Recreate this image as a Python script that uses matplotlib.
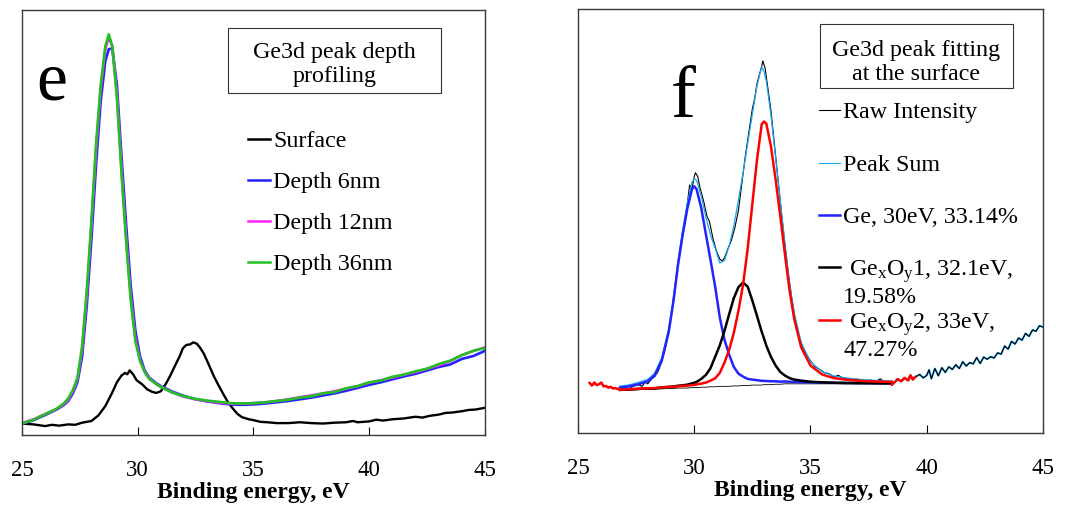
import numpy as np
import matplotlib
matplotlib.use('Agg')
import matplotlib.pyplot as plt
from matplotlib.patches import Rectangle

plt.rcParams['font.family'] = ['Liberation Serif', 'DejaVu Serif']
plt.rcParams['mathtext.fontset'] = 'custom'
plt.rcParams['mathtext.rm'] = 'Liberation Serif'
plt.rcParams['mathtext.it'] = 'Liberation Serif:italic'

# ---------------- panel e: Ge3d depth profiling ----------------
e_surface = [25.0, 25.5, 26.0, 26.3, 26.6, 27.0, 27.3, 27.6, 28.0, 28.3, 28.6, 28.9, 29.1,
             29.3, 29.45, 29.55, 29.65, 29.8, 29.95, 30.2, 30.4, 30.6, 30.8, 31.0, 31.2,
             31.4, 31.6, 31.8, 31.95, 32.1, 32.25, 32.4, 32.55, 32.7, 32.85, 33.05, 33.3,
             33.5, 33.7, 33.9, 34.1, 34.3, 34.5, 34.8, 35.0, 35.3, 35.6, 36.0, 36.5, 37.0,
             37.5, 38.0, 38.5, 39.0, 39.3, 39.5, 40.0, 40.3, 40.6, 41.0, 41.5, 42.0, 42.3,
             42.6, 43.0, 43.3, 43.6, 44.0, 44.3, 44.6, 45.0]
i_surface = [2.7, 2.5, 2.1, 2.4, 2.2, 2.5, 2.4, 2.9, 3.3, 4.6, 6.8, 10.0, 12.4,
             14.0, 14.6, 14.3, 15.2, 14.3, 12.9, 11.9, 10.8, 10.2, 9.9, 10.3, 11.9,
             13.9, 16.2, 18.4, 20.4, 21.2, 21.3, 21.8, 21.5, 20.5, 19.2, 16.8, 13.7,
             11.6, 9.6, 7.7, 6.3, 5.0, 4.2, 3.7, 3.5, 3.1, 3.0, 2.8, 2.8, 3.0,
             2.8, 2.7, 2.9, 3.0, 3.3, 3.0, 3.2, 3.6, 3.4, 3.7, 3.9, 4.3, 4.1,
             4.5, 4.8, 5.2, 5.3, 5.6, 5.9, 6.0, 6.4]

e_depth = [25.0, 25.5, 26.0, 26.5, 26.8, 27.0, 27.2, 27.4, 27.6, 27.8,
           28.0, 28.2, 28.4, 28.6, 28.75, 28.9, 29.1, 29.3, 29.5, 29.7,
           29.9, 30.1, 30.3, 30.5, 30.8, 31.0,
           31.5, 32.0, 32.5, 33.0, 33.5, 34.0, 34.5, 35.0, 35.5, 36.0, 36.5, 37.0,
           37.5, 38.0, 38.5, 39.0, 39.5, 40.0, 40.5, 41.0, 41.5, 42.0, 42.5, 43.0,
           43.5, 44.0, 44.5, 45.0]
i_depth6 = [2.6, 3.5, 4.7, 6.0, 7.0, 8.0, 9.8, 12.5, 18.5, 30.5,
            46.0, 63.5, 78.5, 88.0, 90.8, 91.0, 82.5, 65.5, 49.5, 35.0,
            24.5, 18.5, 15.2, 13.5, 12.2, 11.5,
            10.2, 9.2, 8.4, 7.9, 7.5, 7.2, 7.1, 7.2, 7.4, 7.7, 8.0, 8.4,
            8.8, 9.3, 9.8, 10.4, 11.1, 11.8, 12.4, 13.1, 13.8, 14.4, 15.2, 16.0,
            16.6, 17.9, 18.6, 19.8]
i_depth12 = [2.8, 3.7, 4.9, 6.1, 7.2, 8.3, 10.3, 13.2, 20.0, 33.0,
             49.5, 67.0, 81.5, 90.8, 93.6, 91.6, 80.5, 62.5, 46.5, 32.5,
             22.8, 17.6, 14.9, 13.3, 12.0, 11.3,
             10.0, 9.0, 8.4, 8.0, 7.6, 7.4, 7.4, 7.5, 7.7, 8.0, 8.4, 8.9,
             9.3, 9.8, 10.3, 10.9, 11.5, 12.3, 12.9, 13.5, 14.2, 14.8, 15.6, 16.4,
             17.4, 18.8, 19.8, 20.6]
i_depth36 = [2.7, 3.6, 4.9, 6.2, 7.4, 8.6, 10.6, 13.5, 21.0, 34.0,
             50.5, 68.5, 82.3, 91.5, 94.3, 91.5, 79.5, 61.5, 45.5, 31.5,
             22.0, 17.5, 14.8, 13.2, 12.0, 11.3,
             10.0, 9.1, 8.5, 8.1, 7.8, 7.5, 7.4, 7.5, 7.7, 8.0, 8.3, 8.8,
             9.1, 9.8, 10.1, 11.0, 11.5, 12.4, 12.8, 13.7, 14.2, 15.0, 15.6, 16.7,
             17.5, 18.8, 19.8, 20.5]

depth_labels = ['Surface', 'Depth 6nm', 'Depth 12nm', 'Depth 36nm']
depth_colors = ['black', '#2323ff', '#ff22ff', '#22c022']

# ---------------- panel f: peak fitting at the surface ----------------
e_raw = [25.5, 25.6, 25.7, 25.8, 25.9, 26.0, 26.1, 26.2, 26.3, 26.4, 26.5, 26.6, 26.7, 26.8,
         27.0, 27.2, 27.4, 27.6, 27.75, 27.9, 28.0, 28.1, 28.2, 28.3, 28.45, 28.6, 28.75,
         28.9, 29.05, 29.2, 29.35, 29.5, 29.6, 29.7, 29.8, 29.9, 30.0, 30.05, 30.15, 30.25,
         30.4, 30.55, 30.65, 30.8, 30.95, 31.1, 31.2, 31.3, 31.45, 31.6, 31.75, 31.9, 32.05,
         32.2, 32.35, 32.5, 32.6, 32.7, 32.8, 32.9, 32.95, 33.05, 33.15, 33.3, 33.45, 33.6,
         33.75, 33.9, 34.05, 34.2, 34.35, 34.5, 34.65, 34.8, 35.0, 35.2, 35.4, 35.6, 35.8,
         36.0, 36.2, 36.4, 36.6, 36.8, 37.0, 37.3, 37.6, 37.8, 38.0, 38.2, 38.4, 38.5, 38.6,
         38.75, 38.9, 39.05, 39.2, 39.3, 39.4, 39.5, 39.7, 39.85, 40.0, 40.1, 40.2, 40.35,
         40.5, 40.65, 40.8, 40.95, 41.1, 41.25, 41.4, 41.55, 41.7, 41.85, 42.0, 42.15, 42.3,
         42.45, 42.6, 42.75, 42.9, 43.05, 43.2, 43.35, 43.5, 43.65, 43.8, 43.95, 44.1, 44.25,
         44.4, 44.55, 44.7, 44.85, 45.0]
i_raw = [11.8, 11.2, 11.9, 11.3, 11.5, 11.9, 11.0, 11.1, 10.7, 10.9, 10.5, 10.6, 10.4, 10.3,
         10.6, 10.4, 11.1, 11.4, 11.0, 12.0, 11.6, 12.3, 12.9, 13.3, 14.6, 16.8, 19.8,
         24.0, 29.5, 35.5, 42.0, 47.5, 49.5, 54.0, 58.5, 57.5, 60.5, 61.4, 60.5, 57.8,
         54.8, 51.0, 50.0, 46.0, 43.0, 41.0, 40.6, 41.3, 43.5, 45.5, 48.5, 52.5, 59.0,
         65.5, 71.0, 76.5, 79.0, 82.5, 84.5, 86.5, 87.8, 86.0, 82.0, 76.0, 68.0, 60.0,
         52.0, 44.5, 37.5, 31.5, 26.5, 23.0, 20.5, 18.8, 17.0, 15.6, 15.0, 14.2, 14.0,
         13.2, 13.6, 12.9, 12.8, 12.6, 12.7, 12.3, 12.5, 12.1, 12.8, 12.0, 11.8, 11.4, 11.9,
         12.7, 12.2, 13.0, 12.4, 13.6, 12.6, 13.2, 13.8, 13.0, 13.6, 14.9, 12.8, 15.2,
         13.5, 15.4, 14.3, 15.6, 15.0, 16.1, 15.2, 16.8, 15.8, 16.6, 16.3, 17.8, 16.4,
         17.9, 17.4, 18.0, 17.7, 18.9, 18.6, 20.5, 19.8, 21.6, 21.0, 22.4, 21.9, 23.5,
         22.8, 24.3, 24.0, 25.3, 25.0]

e_fit = [26.8, 27.2, 27.6, 28.0, 28.3, 28.6, 28.9, 29.1, 29.3, 29.5,
         29.7, 29.9, 30.0, 30.1, 30.3, 30.5, 30.7, 30.9, 31.1, 31.3,
         31.5, 31.7, 31.9, 32.1, 32.3, 32.5, 32.7, 32.9, 33.0, 33.1,
         33.3, 33.5, 33.7, 33.9, 34.1, 34.3, 34.6, 35.0, 35.5, 36.0,
         36.5, 37.0, 37.5, 38.0, 38.5]
i_base = [10.0, 10.1, 10.2, 10.3, 10.3, 10.4, 10.5, 10.5, 10.6, 10.6,
          10.6, 10.7, 10.7, 10.7, 10.8, 10.8, 10.9, 10.9, 11.0, 11.0,
          11.0, 11.1, 11.1, 11.2, 11.2, 11.3, 11.3, 11.3, 11.4, 11.4,
          11.4, 11.5, 11.5, 11.6, 11.6, 11.6, 11.6, 11.6, 11.6, 11.6,
          11.6, 11.6, 11.6, 11.6, 11.6]
i_ge = [10.7, 11.0, 11.5, 12.2, 13.6, 17.05, 23.8, 30.9, 39.6, 46.7,
        52.9, 57.5, 58.2, 57.5, 53.1, 46.9, 40.8, 34.5, 27.2, 22.0,
        18.5, 15.6, 14.0, 13.3, 12.75, 12.6, 12.45, 12.3, 12.3, 12.25,
        12.2, 12.2, 12.1, 12.15, 12.1, 12.05, 12.0, 11.95, 11.9, 11.85,
        11.8, 11.8, 11.75, 11.75, 11.75]
i_gexoy1 = [10.15, 10.25, 10.4, 10.5, 10.55, 10.75, 10.9, 10.95, 11.15, 11.25,
            11.4, 11.7, 11.85, 12.05, 12.75, 13.7, 15.3, 18.0, 20.7, 24.1,
            28.0, 31.8, 34.4, 35.5, 34.5, 31.2, 27.6, 23.9, 22.3, 20.6,
            17.95, 15.9, 14.4, 13.55, 12.95, 12.6, 12.35, 12.1, 11.95, 11.85,
            11.8, 11.75, 11.75, 11.7, 11.7]
i_gexoy2 = [10.2, 10.3, 10.45, 10.55, 10.6, 10.75, 10.85, 10.9, 11.0, 11.1,
            11.15, 11.3, 11.35, 11.45, 11.65, 11.9, 12.35, 12.9, 14.2, 16.6,
            19.6, 23.6, 28.8, 35.0, 43.6, 54.1, 64.5, 72.8, 73.5, 73.0,
            67.6, 59.8, 51.2, 42.2, 33.6, 26.9, 20.2, 15.9, 13.8, 12.95,
            12.6, 12.35, 12.2, 12.1, 12.05]

fit_labels = ['Raw Intensity', 'Peak Sum', 'Ge, 30eV, 33.14%',
              ' Ge$_\\mathregular{x}$O$_\\mathregular{y}$1, 32.1eV,\n19.58%',
              ' Ge$_\\mathregular{x}$O$_\\mathregular{y}$2, 33eV,\n47.27%']
fit_colors = ['black', '#14a6f0', '#2323ff', 'black', '#ff0000']

xticks = [25, 30, 35, 40, 45]

fig = plt.figure(figsize=(10.77, 5.07), dpi=100)
ax1 = fig.add_axes([0.0204, 0.142, 0.4299, 0.838])
ax2 = fig.add_axes([0.5367, 0.146, 0.4317, 0.836])


def style_axis(ax):
    ax.set_xlim(25, 45)
    ax.set_ylim(0, 100)
    ax.set_xticks(xticks)
    ax.tick_params(axis='x', direction='in', length=6, width=0.8, pad=18,
                   labelsize=16.5, top=False)
    ax.tick_params(axis='y', left=False, labelleft=False)
    for sp in ax.spines.values():
        sp.set_color('#3a3a3a')
        sp.set_linewidth(1.0)
    ax.set_xlabel('Binding energy, eV', fontsize=17, fontweight='bold', labelpad=1)


# left panel
style_axis(ax1)
ax1.plot(e_surface, i_surface, color=depth_colors[0], lw=1.7)
ax1.plot(e_depth, i_depth6, color=depth_colors[1], lw=1.9)
ax1.plot(e_depth, i_depth12, color=depth_colors[2], lw=1.9)
ax1.plot(e_depth, i_depth36, color=depth_colors[3], lw=1.9)

ax1.text(0.03, 0.789, 'e', transform=ax1.transAxes, fontsize=50, va='baseline')
ax1.add_patch(Rectangle((0.445, 0.805), 0.46, 0.153, transform=ax1.transAxes,
                        fill=False, ec='#333333', lw=0.8))
# va='baseline' on multi-line text pins the last line
ax1.text(0.675, 0.8306, 'Ge3d peak depth\nprofiling', transform=ax1.transAxes,
         fontsize=17.3, ha='center', va='baseline', linespacing=1.22)
for k, (lab, col) in enumerate(zip(depth_labels, depth_colors)):
    yb = 0.6776 - k * 0.0965
    ax1.plot([0.488, 0.5356], [yb + 0.019, yb + 0.019], color=col, lw=1.8,
             transform=ax1.transAxes)
    ax1.text(0.542, yb, lab, transform=ax1.transAxes, fontsize=17.3, va='baseline')

# right panel
style_axis(ax2)
e_raw_a = np.array(e_raw)
i_raw_a = np.array(i_raw)
i_sum = np.array(i_ge) + np.array(i_gexoy1) + np.array(i_gexoy2) - 2 * np.array(i_base)

tail = e_raw_a >= 38.5
ax2.plot(e_raw_a[tail], i_raw_a[tail], color=fit_colors[1], lw=1.4)
ax2.plot(e_raw_a, i_raw_a, color=fit_colors[0], lw=0.8)
ax2.plot(e_fit, i_sum, color=fit_colors[1], lw=0.9)
ax2.plot(e_fit, i_base, color='black', lw=0.6)
ax2.plot(e_fit, i_ge, color=fit_colors[2], lw=1.8)
ax2.plot(e_fit, i_gexoy1, color=fit_colors[3], lw=1.8)
ax2.plot(e_fit, i_gexoy2, color=fit_colors[4], lw=1.8)
left_edge = e_raw_a <= 26.8
right_edge = (e_raw_a >= 38.5) & (e_raw_a <= 39.5)
ax2.plot(e_raw_a[left_edge], i_raw_a[left_edge], color=fit_colors[4], lw=1.8)
ax2.plot(e_raw_a[right_edge], i_raw_a[right_edge], color=fit_colors[4], lw=1.8)

ax2.text(0.2, 0.745, 'f', transform=ax2.transAxes, fontsize=54, va='baseline')
ax2.add_patch(Rectangle((0.520, 0.813), 0.415, 0.153, transform=ax2.transAxes,
                        fill=False, ec='#333333', lw=0.8))
ax2.text(0.727, 0.8325, 'Ge3d peak fitting\nat the surface', transform=ax2.transAxes,
         fontsize=17.3, ha='center', va='baseline', linespacing=1.18)
leg_handle_y = [0.7618, 0.637, 0.514, 0.3915, 0.2665]
leg_text_y = [0.743, 0.618, 0.495, 0.3066, 0.1816]
leg_w = [0.8, 0.8, 1.8, 1.8, 1.8]
for lab, col, yh, yb, w in zip(fit_labels, fit_colors, leg_handle_y, leg_text_y, leg_w):
    ax2.plot([0.518, 0.5634], [yh, yh], color=col, lw=w, transform=ax2.transAxes)
    ax2.text(0.570, yb, lab, transform=ax2.transAxes, fontsize=17.3, va='baseline',
             linespacing=1.1)

fig.savefig('out.png', dpi=100)
